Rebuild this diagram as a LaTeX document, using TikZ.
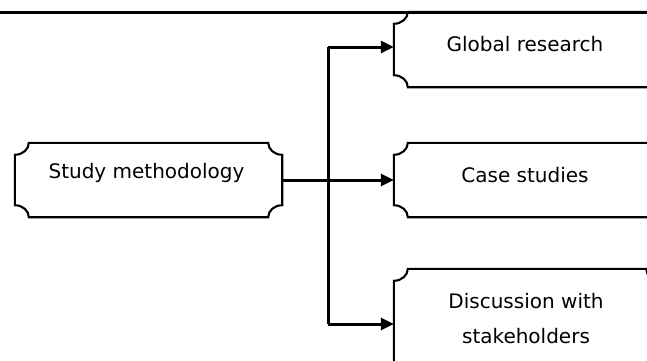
\documentclass[tikz,border=0pt]{standalone}
\usepackage{fontspec}
\setmainfont{DejaVu Sans}
\usetikzlibrary{arrows.meta,calc}
\newcommand\plaqueframe[1]{%
  \draw[boxline] ($(#1.north west)+(14,0)$) -- ($(#1.north east)+(-14,0)$)
    arc[start angle=180,end angle=270,x radius=14,y radius=12]
    -- ($(#1.south east)+(0,12)$)
    arc[start angle=90,end angle=180,x radius=14,y radius=12]
    -- ($(#1.south west)+(14,0)$)
    arc[start angle=0,end angle=90,x radius=14,y radius=12]
    -- ($(#1.north west)+(0,-12)$)
    arc[start angle=270,end angle=360,x radius=14,y radius=12] -- cycle;}
\begin{document}
\begin{tikzpicture}[x=1pt,y=1pt,
  boxline/.style={line width=2.1pt,black},
  conn/.style={line width=3pt,black},
  tip/.style={-{Triangle[length=13pt,width=12pt]}},
  plaque/.style={rectangle,draw=none,inner sep=0pt},
  lbl/.style={font=\fontsize{20}{35}\selectfont,align=center,inner sep=0pt}]
\useasboundingbox (0,0) rectangle (647,360);
\draw[line width=3pt] (0,348) -- (647,348);
\node[plaque,minimum width=267pt,minimum height=74pt] (study) at (148.5,180) {};
\node[plaque,minimum width=286pt,minimum height=75pt] (global) at (537,310.5) {};
\node[plaque,minimum width=286pt,minimum height=74pt] (case) at (537,180) {};
\node[plaque,minimum width=266pt,minimum height=110pt] (disc) at (527,36) {};
\plaqueframe{study}
\plaqueframe{global}
\plaqueframe{case}
\plaqueframe{disc}
\node[lbl] (tstudy) at (146.5,187) {Study methodology};
\node[lbl] (tglobal) at (525,316) {Global research};
\node[lbl] (tcase) at (525,185) {Case studies};
\node[lbl] (tdisc) at (526,41) {Discussion with\\stakeholders};
\coordinate (jt) at (328,313);
\coordinate (jb) at (328,36);
\draw[conn] (jt) -- (jb);
\draw[conn,tip] (study.east) -- (case.west);
\draw[conn,tip] (jt) -- (jt -| global.west);
\draw[conn,tip] (jb) -- (jb -| disc.west);
\end{tikzpicture}
\end{document}
